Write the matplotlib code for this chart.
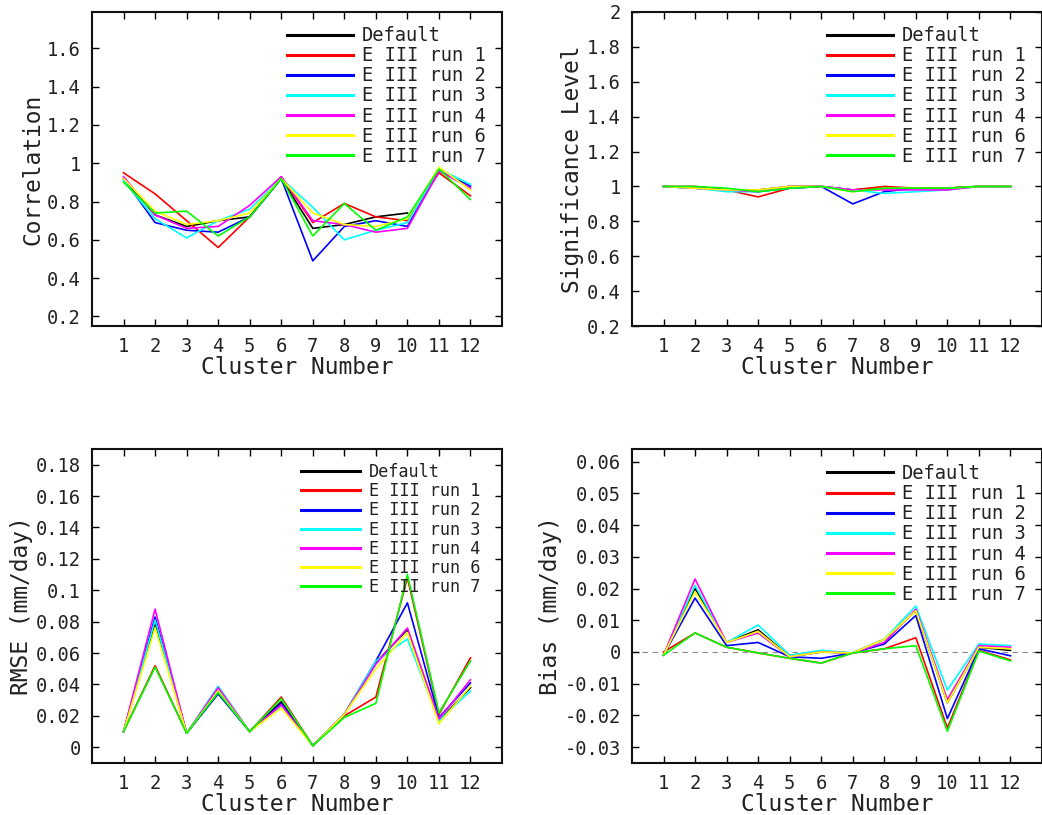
import numpy as np
import matplotlib
matplotlib.use("Agg")
import matplotlib.pyplot as plt

# cluster numbers and series names
clusters = list(range(1, 13))
names = ["Default", "E III run 1", "E III run 2", "E III run 3",
         "E III run 4", "E III run 6", "E III run 7"]
colors = ["#000000", "#ff0000", "#0000ff", "#00ffff", "#ff00ff", "#ffff00", "#00ff00"]

nan = np.nan

# correlation
corr_default = [0.92, 0.73, 0.67, 0.70, 0.72, 0.92, 0.66, 0.68, 0.72, 0.74, nan, nan]
corr_run1 = [0.95, 0.84, 0.70, 0.56, 0.72, 0.93, 0.69, 0.79, 0.72, 0.70, 0.95, 0.83]
corr_run2 = [0.92, 0.69, 0.65, 0.64, 0.72, 0.92, 0.49, 0.67, 0.70, 0.67, 0.96, 0.88]
corr_run3 = [0.91, 0.71, 0.61, 0.70, 0.76, 0.92, 0.77, 0.60, 0.65, 0.69, 0.97, 0.89]
corr_run4 = [0.93, 0.73, 0.66, 0.67, 0.78, 0.93, 0.70, 0.68, 0.64, 0.66, 0.96, 0.87]
corr_run6 = [0.92, 0.75, 0.68, 0.70, 0.74, 0.92, 0.74, 0.68, 0.67, 0.71, 0.98, 0.86]
corr_run7 = [0.90, 0.74, 0.75, 0.62, 0.72, 0.92, 0.62, 0.79, 0.65, 0.72, 0.97, 0.81]

# significance level
sig_default = [1.0, 0.99, 0.98, 0.98, 1.0, 1.0, 0.98, 0.99, 0.99, 0.99, 1.0, 1.0]
sig_run1 = [1.0, 1.0, 0.98, 0.94, 0.99, 1.0, 0.98, 1.0, 0.99, 0.99, 1.0, 1.0]
sig_run2 = [1.0, 0.99, 0.98, 0.97, 0.99, 1.0, 0.90, 0.97, 0.99, 0.99, 1.0, 1.0]
sig_run3 = [1.0, 0.99, 0.97, 0.97, 0.99, 1.0, 0.98, 0.96, 0.97, 0.98, 1.0, 1.0]
sig_run4 = [1.0, 0.99, 0.98, 0.97, 1.0, 1.0, 0.98, 0.98, 0.98, 0.98, 1.0, 1.0]
sig_run6 = [1.0, 0.99, 0.98, 0.98, 1.0, 1.0, 0.97, 0.99, 0.99, 0.99, 1.0, 1.0]
sig_run7 = [1.0, 1.0, 0.99, 0.97, 0.99, 1.0, 0.97, 0.99, 0.99, 0.99, 1.0, 1.0]

# RMSE (mm/day)
rmse_default = [0.010, 0.079, 0.009, 0.035, 0.010, 0.029, 0.001, 0.021, 0.054, 0.075, 0.017, 0.038]
rmse_run1 = [0.010, 0.052, 0.009, 0.036, 0.010, 0.032, 0.001, 0.020, 0.032, 0.108, 0.021, 0.057]
rmse_run2 = [0.010, 0.083, 0.009, 0.034, 0.010, 0.028, 0.001, 0.021, 0.055, 0.092, 0.019, 0.041]
rmse_run3 = [0.010, 0.081, 0.009, 0.039, 0.010, 0.026, 0.001, 0.021, 0.055, 0.069, 0.017, 0.036]
rmse_run4 = [0.010, 0.088, 0.009, 0.038, 0.010, 0.027, 0.001, 0.021, 0.053, 0.076, 0.018, 0.043]
rmse_run6 = [0.010, 0.076, 0.009, 0.036, 0.010, 0.025, 0.001, 0.021, 0.050, 0.073, 0.015, 0.039]
rmse_run7 = [0.010, 0.051, 0.009, 0.035, 0.010, 0.031, 0.001, 0.019, 0.028, 0.110, 0.022, 0.055]

# bias (mm/day)
bias_default = [-0.001, 0.020, 0.003, 0.007, -0.0015, 0.0, -0.0003, 0.004, 0.013, -0.016, 0.0015, 0.0005]
bias_run1 = [0.0, 0.006, 0.0015, -0.0003, -0.002, -0.0035, -0.0003, 0.001, 0.0045, -0.024, 0.0005, -0.0025]
bias_run2 = [-0.001, 0.017, 0.002, 0.003, -0.0015, -0.002, -0.0003, 0.0025, 0.0115, -0.021, 0.001, -0.0012]
bias_run3 = [-0.001, 0.021, 0.003, 0.0085, -0.001, 0.0005, -0.0003, 0.004, 0.0145, -0.012, 0.0025, 0.002]
bias_run4 = [-0.001, 0.023, 0.003, 0.006, -0.0015, 0.0, -0.0003, 0.003, 0.0135, -0.015, 0.002, 0.0015]
bias_run6 = [-0.001, 0.019, 0.003, 0.0065, -0.0015, 0.0, -0.0003, 0.004, 0.013, -0.016, 0.0015, 0.001]
bias_run7 = [-0.001, 0.006, 0.0015, -0.0003, -0.002, -0.0035, -0.0003, 0.001, 0.002, -0.025, 0.0003, -0.0028]

corr_ticks = [0.2, 0.4, 0.6, 0.8, 1.0, 1.2, 1.4, 1.6]
sig_ticks = [0.2, 0.4, 0.6, 0.8, 1.0, 1.2, 1.4, 1.6, 1.8, 2.0]
rmse_ticks = [0, 0.02, 0.04, 0.06, 0.08, 0.1, 0.12, 0.14, 0.16, 0.18]
bias_ticks = [-0.03, -0.02, -0.01, 0, 0.01, 0.02, 0.03, 0.04, 0.05, 0.06]

mono = "DejaVu Sans Mono"
tcol = "#222222"


def fmt(v):
    s = ("%.2f" % v).rstrip("0").rstrip(".")
    if s in ("-0", ""):
        s = "0"
    return s


def panel(ax, series, ylabel, yticks, ylim, legsize, legpos, rowsep):
    for vals, lab, c in zip(series, names, colors):
        ax.plot(clusters, vals, color=c, lw=1.2, label=lab)
    ax.set_xlim(0, 13)
    ax.set_ylim(*ylim)
    ax.set_xticks(clusters)
    ax.set_xticklabels([str(c) for c in clusters], fontsize=13.5, family=mono, color=tcol)
    ax.set_yticks(yticks)
    ax.set_yticklabels([fmt(v) for v in yticks], fontsize=13.5, family=mono, color=tcol)
    ax.tick_params(direction="in", top=True, right=True, length=5, width=1, pad=8)
    for sp in ax.spines.values():
        sp.set_linewidth(1.5)
        sp.set_color("#111111")
    ax.set_xlabel("Cluster Number", fontsize=16.5, family=mono, color=tcol, labelpad=0)
    ax.set_ylabel(ylabel, fontsize=16.5, family=mono, color=tcol, labelpad=2)
    leg = ax.legend(loc="upper left", bbox_to_anchor=legpos, frameon=False,
                    prop={"family": mono, "size": legsize}, handlelength=3.5,
                    handletextpad=0.5, labelspacing=rowsep, borderpad=0,
                    borderaxespad=0)
    for h in leg.get_lines():
        h.set_linewidth(2.2)
    for t in leg.get_texts():
        t.set_color(tcol)
    return ax


fig = plt.figure(figsize=(10.42, 8.15), dpi=100)
w, h = 0.3935, 0.3853
ax1 = fig.add_axes([0.0883, 0.600, w, h])
ax2 = fig.add_axes([0.6065, 0.600, w, h])
ax3 = fig.add_axes([0.0883, 0.0638, w, h])
ax4 = fig.add_axes([0.6065, 0.0638, w, h])

panel(ax1, [corr_default, corr_run1, corr_run2, corr_run3, corr_run4, corr_run6, corr_run7],
      "Correlation", corr_ticks, (0.15, 1.79), 13.5, (0.476, 0.955), 0.06)
panel(ax2, [sig_default, sig_run1, sig_run2, sig_run3, sig_run4, sig_run6, sig_run7],
      "Significance Level", sig_ticks, (0.2, 2.0), 13.5, (0.476, 0.955), 0.06)
panel(ax3, [rmse_default, rmse_run1, rmse_run2, rmse_run3, rmse_run4, rmse_run6, rmse_run7],
      "RMSE (mm/day)", rmse_ticks, (-0.01, 0.19), 12.2, (0.51, 0.955), 0.07)
panel(ax4, [bias_default, bias_run1, bias_run2, bias_run3, bias_run4, bias_run6, bias_run7],
      "Bias (mm/day)", bias_ticks, (-0.035, 0.064), 13.5, (0.476, 0.952), 0.06)
ax4.axhline(0, color="#888888", lw=0.8, ls=(0, (5, 4)), zorder=0)

fig.savefig("out.png", dpi=100)
